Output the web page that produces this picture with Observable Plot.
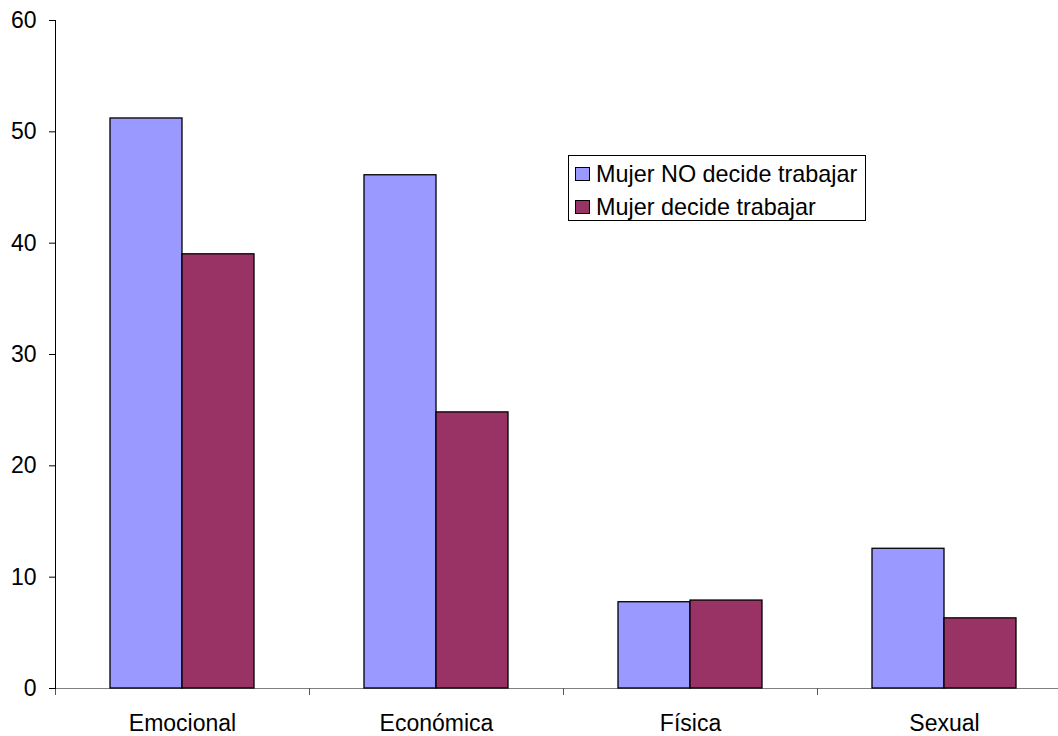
<!DOCTYPE html>
<html>
<head>
<meta charset="utf-8">
<script src="https://cdn.jsdelivr.net/npm/d3@7"></script>
<script src="https://cdn.jsdelivr.net/npm/@observablehq/plot@0.6"></script>
<style>
  body { margin: 0; background: #fff; overflow: hidden; font-family: "Liberation Sans", Arial, sans-serif; }
  #chart { position: relative; width: 1058px; height: 736px; }
  #chart svg { overflow: visible; }
  .legend { position: absolute; left: 568px; top: 155px; width: 298px; height: 66px;
            border: 1px solid #000; background: #fff; box-sizing: border-box; }
  .legend .sw { position: absolute; left: 6px; width: 15px; height: 14px; border: 1px solid #000; box-sizing: border-box; }
  .legend .tx { position: absolute; left: 27px; font-size: 23.4px; line-height: 26px; color: #000; white-space: nowrap; }
</style>
</head>
<body>
<div id="chart"></div>
<script>
// Tipos de violencia y porcentaje según si la mujer decide trabajar
const categories = ["Emocional", "Económica", "Física", "Sexual"];
const series = ["Mujer NO decide trabajar", "Mujer decide trabajar"];
const noDecide = [51.2, 46.1, 7.75, 12.55];
const decide = [39.0, 24.8, 7.9, 6.3];
const yTicks = [0, 10, 20, 30, 40, 50, 60];
const colors = ["#9999FF", "#993366"];

const rows = categories.flatMap((c, i) => [
  { category: c, serie: series[0], value: noDecide[i] },
  { category: c, serie: series[1], value: decide[i] }
]);

const chart = Plot.plot({
  width: 1058,
  height: 736,
  marginLeft: 55,
  marginRight: -13,
  marginTop: 20,
  marginBottom: 48,
  style: { fontFamily: "'Liberation Sans', Arial, sans-serif", background: "#fff", color: "#000" },
  fx: { domain: categories, padding: 0, label: null },
  x: { domain: series, axis: null, paddingInner: 0, paddingOuter: 0.74 },
  y: { domain: [0, 60], axis: null },
  color: { domain: series, range: colors },
  marks: [
    // eje X gris con marcas en los límites de cada categoría
    Plot.ruleY([0], { stroke: "#808080", strokeWidth: 1.2 }),
    Plot.frame({ anchor: "left", stroke: "#555", insetTop: 668, insetBottom: -6 }),
    Plot.barY(rows, { fx: "category", x: "serie", y: "value", fill: "serie", stroke: "#000", strokeWidth: 1.3 }),
    // eje Y
    Plot.frame({ anchor: "left", facetAnchor: "left", stroke: "#000", strokeWidth: 1 }),
    Plot.axisY({ ticks: yTicks, tickSize: 6, tickPadding: 13, fontSize: 23, stroke: "#000", label: null }),
    Plot.axisFx({ anchor: "bottom", tickSize: 0, tickPadding: 26, fontSize: 23, label: null })
  ]
});

const root = document.getElementById("chart");
root.appendChild(chart);

// leyenda
const legend = document.createElement("div");
legend.className = "legend";
series.forEach((s, i) => {
  const sw = document.createElement("div");
  sw.className = "sw";
  sw.style.top = (11 + i * 33) + "px";
  sw.style.background = colors[i];
  const tx = document.createElement("div");
  tx.className = "tx";
  tx.style.top = (5 + i * 33) + "px";
  tx.textContent = s;
  legend.appendChild(sw);
  legend.appendChild(tx);
});
root.appendChild(legend);
</script>
</body>
</html>
